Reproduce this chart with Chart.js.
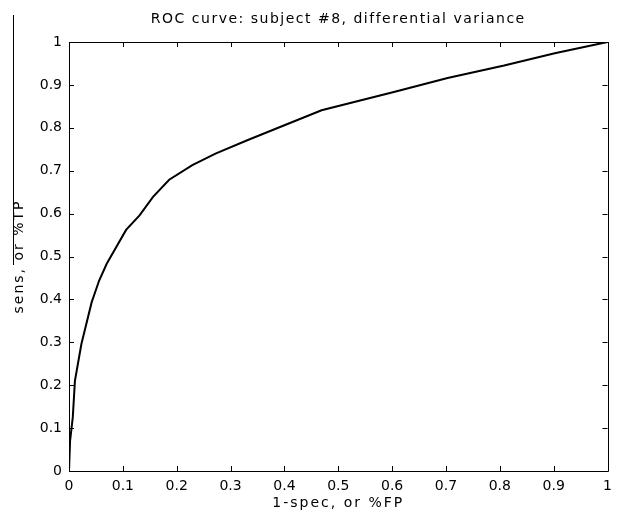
<!DOCTYPE html>
<html>
<head>
<meta charset="utf-8">
<script src="https://cdn.jsdelivr.net/npm/chart.js@4.4.0/dist/chart.umd.min.js"></script>
<style>
  html, body { margin: 0; padding: 0; background: #fff; }
  canvas { display: block; }
</style>
</head>
<body>
<canvas id="roc" width="619" height="516"></canvas>
<script>
// data
const fprValues = [0, 0.002, 0.007, 0.011, 0.023, 0.042, 0.056, 0.070, 0.106, 0.131, 0.156, 0.186, 0.229, 0.272, 0.331, 0.400, 0.469, 0.605, 0.703, 0.808, 0.902, 1.0];
const tprValues = [0, 0.070, 0.125, 0.210, 0.296, 0.393, 0.444, 0.483, 0.562, 0.596, 0.639, 0.679, 0.713, 0.740, 0.771, 0.806, 0.841, 0.884, 0.916, 0.945, 0.974, 1.0];

const tickValues = [0, 0.1, 0.2, 0.3, 0.4, 0.5, 0.6, 0.7, 0.8, 0.9, 1];
const tickLabels = ['0', '0.1', '0.2', '0.3', '0.4', '0.5', '0.6', '0.7', '0.8', '0.9', '1'];

const titleText = 'ROC curve: subject #8, differential variance';
const xTitle = '1-spec, or %FP';
const yTitle = 'sens, or %TP';

const FONT = '"DejaVu Sans", Verdana, sans-serif';

const points = fprValues.map((x, i) => ({ x: x, y: tprValues[i] }));

// matlab style box, inward ticks, titles
const matlabAxes = {
  id: 'matlabAxes',
  afterDraw(chart){
    const ctx = chart.ctx;
    const a = chart.chartArea;
    const xs = chart.scales.x, ys = chart.scales.y;
    const midX = (a.left + a.right) / 2;
    const midY = (a.top + a.bottom) / 2;
    ctx.save();
    ctx.strokeStyle = '#000';
    ctx.lineWidth = 1;
    ctx.beginPath();
    ctx.rect(Math.round(a.left) + 0.5, Math.round(a.top) + 0.5, Math.round(a.right - a.left), Math.round(a.bottom - a.top));
    ctx.stroke();

    const len = 5;
    ctx.beginPath();
    tickValues.forEach(v => {
      const px = Math.round(xs.getPixelForValue(v)) + 0.5;
      ctx.moveTo(px, a.bottom); ctx.lineTo(px, a.bottom - len);
      ctx.moveTo(px, a.top); ctx.lineTo(px, a.top + len);
      const py = Math.round(ys.getPixelForValue(v)) + 0.5;
      ctx.moveTo(a.left, py); ctx.lineTo(a.left + len, py);
      ctx.moveTo(a.right, py); ctx.lineTo(a.right - len, py);
    });
    ctx.stroke();

    ctx.fillStyle = '#000';
    ctx.textAlign = 'center';
    ctx.textBaseline = 'middle';
    ctx.font = '14px ' + FONT;
    ctx.letterSpacing = '1.5px';
    ctx.fillText(titleText, midX, 19);

    ctx.letterSpacing = '2px';
    ctx.fillText(xTitle, midX, 503);

    ctx.save();
    ctx.translate(19, midY);
    ctx.rotate(-Math.PI / 2);
    ctx.fillText(yTitle, 0, 0);
    ctx.restore();

    // stray overline next to the y label, as in the scan
    ctx.beginPath();
    ctx.moveTo(13.5, 15);
    ctx.lineTo(13.5, 265);
    ctx.stroke();
    ctx.restore();
  }
};

const setTicks = scale => { scale.ticks = tickValues.map(v => ({ value: v })); };

new Chart(document.getElementById('roc'), {
  type: 'line',
  data: {
    datasets: [{
      data: points,
      borderColor: '#000',
      borderWidth: 2,
      pointRadius: 0,
      tension: 0,
      fill: false
    }]
  },
  options: {
    responsive: false,
    animation: false,
    layout: { padding: { top: 42, right: 8, left: 0, bottom: 0 } },
    plugins: {
      legend: { display: false },
      tooltip: { enabled: false },
      title: { display: false }
    },
    scales: {
      x: {
        type: 'linear',
        min: 0, max: 1,
        afterBuildTicks: setTicks,
        afterFit: s => { s.height = 45; },
        grid: { display: false, drawTicks: false },
        border: { display: false },
        ticks: {
          color: '#000',
          padding: 7,
          maxRotation: 0,
          autoSkip: false,
          font: { family: FONT, size: 14 },
          callback: (v, i) => tickLabels[i]
        }
      },
      y: {
        type: 'linear',
        min: 0, max: 1,
        afterBuildTicks: setTicks,
        afterFit: s => { s.width = 69; },
        grid: { display: false, drawTicks: false },
        border: { display: false },
        ticks: {
          color: '#000',
          padding: 7,
          autoSkip: false,
          font: { family: FONT, size: 14 },
          callback: (v, i) => tickLabels[i]
        }
      }
    }
  },
  plugins: [matlabAxes]
});
</script>
</body>
</html>
